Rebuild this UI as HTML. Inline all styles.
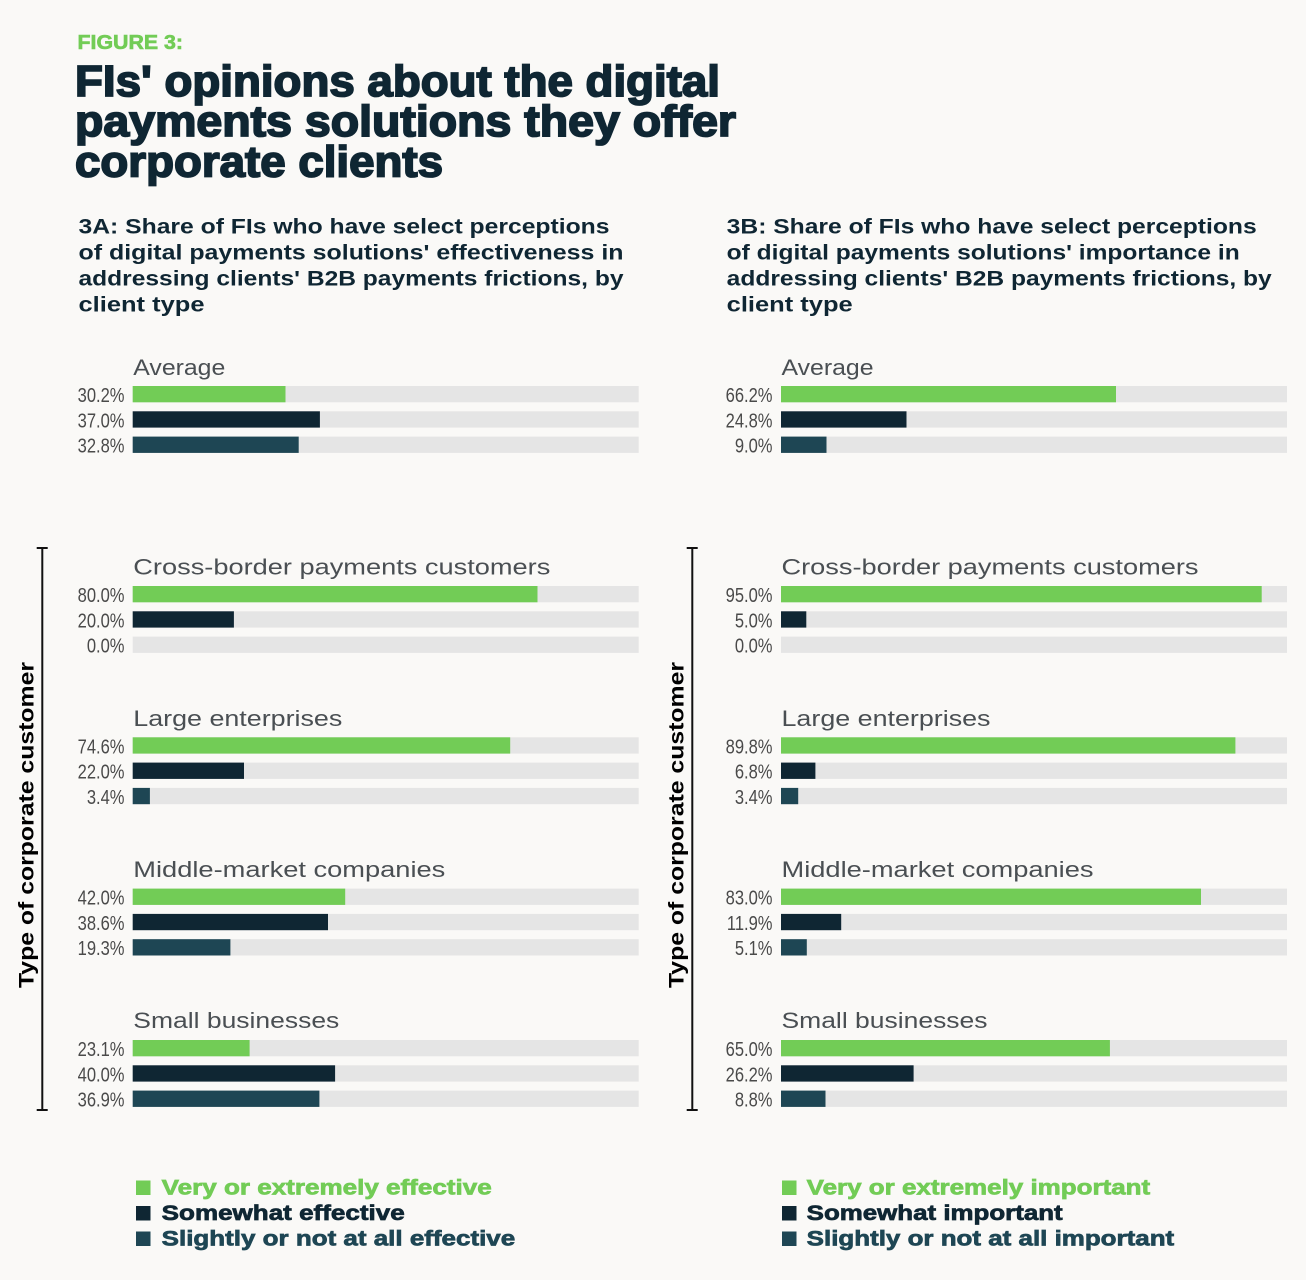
<!DOCTYPE html>
<html>
<head>
<meta charset="utf-8">
<style>
  html,body{margin:0;padding:0;background:#faf9f7;}
  svg{display:block;}
  .ttl{font-family:"Liberation Sans",sans-serif;font-weight:bold;fill:#0f2633;stroke:#0f2633;stroke-width:1.8;}
  .fig{font-family:"Liberation Sans",sans-serif;font-weight:bold;fill:#72cc56;stroke:#72cc56;stroke-width:0.6;}
  .sub{font-family:"Liberation Sans",sans-serif;font-weight:bold;fill:#0f2633;font-size:21px;}
  .grp{font-family:"Liberation Sans",sans-serif;fill:#4a4f53;font-size:22px;}
  .lbl{font-family:"Liberation Sans",sans-serif;fill:#4a4a4a;font-size:20.3px;}
  .vax{font-family:"Liberation Sans",sans-serif;font-weight:bold;fill:#000;font-size:21px;}
  .leg{font-family:"Liberation Sans",sans-serif;font-weight:bold;font-size:21px;stroke-width:0.7;}
  .tr{fill:#e5e5e5;}
  .g{fill:#72cc56;}
  .d{fill:#0f2633;}
  .t{fill:#1e4654;}
</style>
</head>
<body>
<svg width="1306" height="1280" viewBox="0 0 1306 1280" xmlns="http://www.w3.org/2000/svg">
  <rect x="0" y="0" width="1306" height="1280" fill="#faf9f7"/>

  <!-- Header -->
  <text class="fig" x="77.5" y="49" font-size="20" textLength="105.5" lengthAdjust="spacingAndGlyphs">FIGURE 3:</text>
  <text class="ttl" x="75" y="96" font-size="44" textLength="645" lengthAdjust="spacingAndGlyphs">FIs' opinions about the digital</text>
  <text class="ttl" x="75" y="136" font-size="44" textLength="661" lengthAdjust="spacingAndGlyphs">payments solutions they offer</text>
  <text class="ttl" x="75" y="176.5" font-size="44" textLength="368" lengthAdjust="spacingAndGlyphs">corporate clients</text>

  <!-- Subtitles -->
  <text class="sub" x="78.5" y="233.5" textLength="531" lengthAdjust="spacingAndGlyphs">3A: Share of FIs who have select perceptions</text>
  <text class="sub" x="78.5" y="259.5" textLength="545" lengthAdjust="spacingAndGlyphs">of digital payments solutions' effectiveness in</text>
  <text class="sub" x="78.5" y="285.5" textLength="545" lengthAdjust="spacingAndGlyphs">addressing clients' B2B payments frictions, by</text>
  <text class="sub" x="78.5" y="311.5" textLength="126" lengthAdjust="spacingAndGlyphs">client type</text>

  <text class="sub" x="726.7" y="233.5" textLength="530" lengthAdjust="spacingAndGlyphs">3B: Share of FIs who have select perceptions</text>
  <text class="sub" x="726.7" y="259.5" textLength="513" lengthAdjust="spacingAndGlyphs">of digital payments solutions' importance in</text>
  <text class="sub" x="726.7" y="285.5" textLength="545" lengthAdjust="spacingAndGlyphs">addressing clients' B2B payments frictions, by</text>
  <text class="sub" x="726.7" y="311.5" textLength="126" lengthAdjust="spacingAndGlyphs">client type</text>

  <!-- Brackets -->
  <g stroke="#111" stroke-width="2" fill="none">
    <line x1="42.3" y1="548" x2="42.3" y2="1110"/>
    <line x1="36.7" y1="548" x2="47.7" y2="548"/>
    <line x1="36.7" y1="1110" x2="47.7" y2="1110"/>
    <line x1="692.3" y1="548" x2="692.3" y2="1110"/>
    <line x1="686.7" y1="548" x2="697.7" y2="548"/>
    <line x1="686.7" y1="1110" x2="697.7" y2="1110"/>
  </g>
  <text class="vax" transform="translate(33.5,825) rotate(-90)" text-anchor="middle" textLength="326" lengthAdjust="spacingAndGlyphs">Type of corporate customer</text>
  <text class="vax" transform="translate(683.5,825) rotate(-90)" text-anchor="middle" textLength="326" lengthAdjust="spacingAndGlyphs">Type of corporate customer</text>

  <!-- ============ LEFT PANEL ============ -->
  <!-- Average -->
  <text class="grp" x="133.3" y="375" textLength="92" lengthAdjust="spacingAndGlyphs">Average</text>
  <rect class="tr" x="132.7" y="386" width="506" height="16.3"/>
  <rect class="g" x="132.7" y="386" width="152.8" height="16.3"/>
  <rect class="tr" x="132.7" y="411.3" width="506" height="16.3"/>
  <rect class="d" x="132.7" y="411.3" width="187.2" height="16.3"/>
  <rect class="tr" x="132.7" y="436.6" width="506" height="16.3"/>
  <rect class="t" x="132.7" y="436.6" width="166.0" height="16.3"/>
  <text class="lbl" text-anchor="end" transform="translate(124.5,402) scale(0.815,1)">30.2%</text>
  <text class="lbl" text-anchor="end" transform="translate(124.5,427.3) scale(0.815,1)">37.0%</text>
  <text class="lbl" text-anchor="end" transform="translate(124.5,452.6) scale(0.815,1)">32.8%</text>

  <!-- Cross-border -->
  <text class="grp" x="133.3" y="574.5" textLength="417" lengthAdjust="spacingAndGlyphs">Cross-border payments customers</text>
  <rect class="tr" x="132.7" y="586" width="506" height="16.3"/>
  <rect class="g" x="132.7" y="586" width="404.8" height="16.3"/>
  <rect class="tr" x="132.7" y="611.3" width="506" height="16.3"/>
  <rect class="d" x="132.7" y="611.3" width="101.2" height="16.3"/>
  <rect class="tr" x="132.7" y="636.6" width="506" height="16.3"/>
  <text class="lbl" text-anchor="end" transform="translate(124.5,602) scale(0.815,1)">80.0%</text>
  <text class="lbl" text-anchor="end" transform="translate(124.5,627.3) scale(0.815,1)">20.0%</text>
  <text class="lbl" text-anchor="end" transform="translate(124.5,652.6) scale(0.815,1)">0.0%</text>

  <!-- Large -->
  <text class="grp" x="133.3" y="725.8" textLength="209" lengthAdjust="spacingAndGlyphs">Large enterprises</text>
  <rect class="tr" x="132.7" y="737.3" width="506" height="16.3"/>
  <rect class="g" x="132.7" y="737.3" width="377.5" height="16.3"/>
  <rect class="tr" x="132.7" y="762.6" width="506" height="16.3"/>
  <rect class="d" x="132.7" y="762.6" width="111.3" height="16.3"/>
  <rect class="tr" x="132.7" y="787.9" width="506" height="16.3"/>
  <rect class="t" x="132.7" y="787.9" width="17.2" height="16.3"/>
  <text class="lbl" text-anchor="end" transform="translate(124.5,753.3) scale(0.815,1)">74.6%</text>
  <text class="lbl" text-anchor="end" transform="translate(124.5,778.6) scale(0.815,1)">22.0%</text>
  <text class="lbl" text-anchor="end" transform="translate(124.5,803.9) scale(0.815,1)">3.4%</text>

  <!-- Middle -->
  <text class="grp" x="133.3" y="877.1" textLength="312" lengthAdjust="spacingAndGlyphs">Middle-market companies</text>
  <rect class="tr" x="132.7" y="888.6" width="506" height="16.3"/>
  <rect class="g" x="132.7" y="888.6" width="212.5" height="16.3"/>
  <rect class="tr" x="132.7" y="913.9" width="506" height="16.3"/>
  <rect class="d" x="132.7" y="913.9" width="195.3" height="16.3"/>
  <rect class="tr" x="132.7" y="939.2" width="506" height="16.3"/>
  <rect class="t" x="132.7" y="939.2" width="97.7" height="16.3"/>
  <text class="lbl" text-anchor="end" transform="translate(124.5,904.6) scale(0.815,1)">42.0%</text>
  <text class="lbl" text-anchor="end" transform="translate(124.5,929.9) scale(0.815,1)">38.6%</text>
  <text class="lbl" text-anchor="end" transform="translate(124.5,955.2) scale(0.815,1)">19.3%</text>

  <!-- Small -->
  <text class="grp" x="133.3" y="1028" textLength="206" lengthAdjust="spacingAndGlyphs">Small businesses</text>
  <rect class="tr" x="132.7" y="1040" width="506" height="16.3"/>
  <rect class="g" x="132.7" y="1040" width="116.9" height="16.3"/>
  <rect class="tr" x="132.7" y="1065.3" width="506" height="16.3"/>
  <rect class="d" x="132.7" y="1065.3" width="202.4" height="16.3"/>
  <rect class="tr" x="132.7" y="1090.6" width="506" height="16.3"/>
  <rect class="t" x="132.7" y="1090.6" width="186.7" height="16.3"/>
  <text class="lbl" text-anchor="end" transform="translate(124.5,1056) scale(0.815,1)">23.1%</text>
  <text class="lbl" text-anchor="end" transform="translate(124.5,1081.3) scale(0.815,1)">40.0%</text>
  <text class="lbl" text-anchor="end" transform="translate(124.5,1106.6) scale(0.815,1)">36.9%</text>

  <!-- ============ RIGHT PANEL ============ -->
  <!-- Average -->
  <text class="grp" x="781.5" y="375" textLength="92" lengthAdjust="spacingAndGlyphs">Average</text>
  <rect class="tr" x="781" y="386" width="506" height="16.3"/>
  <rect class="g" x="781" y="386" width="335.0" height="16.3"/>
  <rect class="tr" x="781" y="411.3" width="506" height="16.3"/>
  <rect class="d" x="781" y="411.3" width="125.5" height="16.3"/>
  <rect class="tr" x="781" y="436.6" width="506" height="16.3"/>
  <rect class="t" x="781" y="436.6" width="45.5" height="16.3"/>
  <text class="lbl" text-anchor="end" transform="translate(772.5,402) scale(0.815,1)">66.2%</text>
  <text class="lbl" text-anchor="end" transform="translate(772.5,427.3) scale(0.815,1)">24.8%</text>
  <text class="lbl" text-anchor="end" transform="translate(772.5,452.6) scale(0.815,1)">9.0%</text>

  <!-- Cross-border -->
  <text class="grp" x="781.5" y="574.5" textLength="417" lengthAdjust="spacingAndGlyphs">Cross-border payments customers</text>
  <rect class="tr" x="781" y="586" width="506" height="16.3"/>
  <rect class="g" x="781" y="586" width="480.7" height="16.3"/>
  <rect class="tr" x="781" y="611.3" width="506" height="16.3"/>
  <rect class="d" x="781" y="611.3" width="25.3" height="16.3"/>
  <rect class="tr" x="781" y="636.6" width="506" height="16.3"/>
  <text class="lbl" text-anchor="end" transform="translate(772.5,602) scale(0.815,1)">95.0%</text>
  <text class="lbl" text-anchor="end" transform="translate(772.5,627.3) scale(0.815,1)">5.0%</text>
  <text class="lbl" text-anchor="end" transform="translate(772.5,652.6) scale(0.815,1)">0.0%</text>

  <!-- Large -->
  <text class="grp" x="781.5" y="725.8" textLength="209" lengthAdjust="spacingAndGlyphs">Large enterprises</text>
  <rect class="tr" x="781" y="737.3" width="506" height="16.3"/>
  <rect class="g" x="781" y="737.3" width="454.4" height="16.3"/>
  <rect class="tr" x="781" y="762.6" width="506" height="16.3"/>
  <rect class="d" x="781" y="762.6" width="34.4" height="16.3"/>
  <rect class="tr" x="781" y="787.9" width="506" height="16.3"/>
  <rect class="t" x="781" y="787.9" width="17.2" height="16.3"/>
  <text class="lbl" text-anchor="end" transform="translate(772.5,753.3) scale(0.815,1)">89.8%</text>
  <text class="lbl" text-anchor="end" transform="translate(772.5,778.6) scale(0.815,1)">6.8%</text>
  <text class="lbl" text-anchor="end" transform="translate(772.5,803.9) scale(0.815,1)">3.4%</text>

  <!-- Middle -->
  <text class="grp" x="781.5" y="877.1" textLength="312" lengthAdjust="spacingAndGlyphs">Middle-market companies</text>
  <rect class="tr" x="781" y="888.6" width="506" height="16.3"/>
  <rect class="g" x="781" y="888.6" width="420.0" height="16.3"/>
  <rect class="tr" x="781" y="913.9" width="506" height="16.3"/>
  <rect class="d" x="781" y="913.9" width="60.2" height="16.3"/>
  <rect class="tr" x="781" y="939.2" width="506" height="16.3"/>
  <rect class="t" x="781" y="939.2" width="25.8" height="16.3"/>
  <text class="lbl" text-anchor="end" transform="translate(772.5,904.6) scale(0.815,1)">83.0%</text>
  <text class="lbl" text-anchor="end" transform="translate(772.5,929.9) scale(0.815,1)">11.9%</text>
  <text class="lbl" text-anchor="end" transform="translate(772.5,955.2) scale(0.815,1)">5.1%</text>

  <!-- Small -->
  <text class="grp" x="781.5" y="1028" textLength="206" lengthAdjust="spacingAndGlyphs">Small businesses</text>
  <rect class="tr" x="781" y="1040" width="506" height="16.3"/>
  <rect class="g" x="781" y="1040" width="328.9" height="16.3"/>
  <rect class="tr" x="781" y="1065.3" width="506" height="16.3"/>
  <rect class="d" x="781" y="1065.3" width="132.6" height="16.3"/>
  <rect class="tr" x="781" y="1090.6" width="506" height="16.3"/>
  <rect class="t" x="781" y="1090.6" width="44.5" height="16.3"/>
  <text class="lbl" text-anchor="end" transform="translate(772.5,1056) scale(0.815,1)">65.0%</text>
  <text class="lbl" text-anchor="end" transform="translate(772.5,1081.3) scale(0.815,1)">26.2%</text>
  <text class="lbl" text-anchor="end" transform="translate(772.5,1106.6) scale(0.815,1)">8.8%</text>

  <!-- ============ LEGENDS ============ -->
  <rect class="g" x="136" y="1180.5" width="14.5" height="14.5"/>
  <rect class="d" x="136" y="1206" width="14.5" height="14.5"/>
  <rect class="t" x="136" y="1231.5" width="14.5" height="14.5"/>
  <text class="leg" x="161.7" y="1194.5" fill="#72cc56" stroke="#72cc56" textLength="330" lengthAdjust="spacingAndGlyphs">Very or extremely effective</text>
  <text class="leg" x="161.7" y="1220" fill="#0f2633" stroke="#0f2633" textLength="243" lengthAdjust="spacingAndGlyphs">Somewhat effective</text>
  <text class="leg" x="161.7" y="1245.5" fill="#1e4654" stroke="#1e4654" textLength="353.5" lengthAdjust="spacingAndGlyphs">Slightly or not at all effective</text>

  <rect class="g" x="782" y="1180.5" width="14.5" height="14.5"/>
  <rect class="d" x="782" y="1206" width="14.5" height="14.5"/>
  <rect class="t" x="782" y="1231.5" width="14.5" height="14.5"/>
  <text class="leg" x="806.7" y="1194.5" fill="#72cc56" stroke="#72cc56" textLength="343.5" lengthAdjust="spacingAndGlyphs">Very or extremely important</text>
  <text class="leg" x="806.7" y="1220" fill="#0f2633" stroke="#0f2633" textLength="256" lengthAdjust="spacingAndGlyphs">Somewhat important</text>
  <text class="leg" x="806.7" y="1245.5" fill="#1e4654" stroke="#1e4654" textLength="367.5" lengthAdjust="spacingAndGlyphs">Slightly or not at all important</text>
</svg>
</body>
</html>
